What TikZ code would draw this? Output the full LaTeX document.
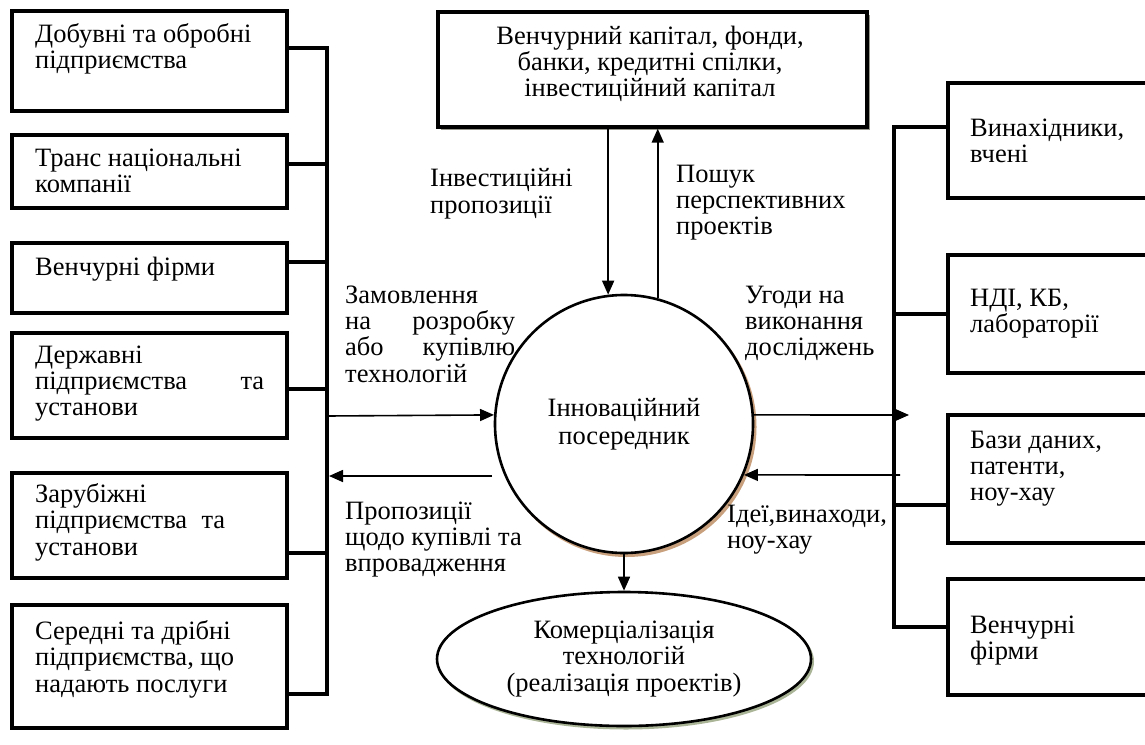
\documentclass[tikz,border=0pt]{standalone}
\usepackage{fontspec}
\setmainfont{Liberation Serif}
\usetikzlibrary{arrows.meta,shapes.geometric,calc}
\definecolor{boxshadow}{RGB}{150,150,140}
\definecolor{circshadow}{RGB}{200,160,125}
\definecolor{ellshadow}{RGB}{170,180,150}
\begin{document}
\begin{tikzpicture}[x=1pt,y=-1pt,
  lbox/.style={draw, line width=3.4pt, fill=white, minimum width=275pt, inner sep=0pt},
  rbox/.style={draw, line width=3.4pt, fill=white, minimum width=202pt, inner sep=0pt},
  txt/.style={anchor=north west, inner sep=0pt, align=left, font=\fontsize{26.5}{26.3}\selectfont},
  bus/.style={line width=3.2pt},
  arr/.style={line width=1.6pt, -{Triangle[length=14pt,width=12pt]}},
]
\useasboundingbox (0,0) rectangle (1145,744);

% top box with shadow
\fill[boxshadow] (441,15) rectangle (870,130);
\node[draw, line width=3.4pt, fill=white, minimum width=429pt, minimum height=115pt, inner sep=0pt] (T) at (652.5,69.5) {};
\node[anchor=north, inner sep=0pt, align=center, font=\fontsize{26.5}{26.3}\selectfont] (Tt) at (650,25.5)
  {Венчурний капітал, фонди,\\банки, кредитні спілки,\\інвестиційний капітал};

% left boxes
\node[lbox, minimum height=100pt] (l1) at (149.5,61) {};
\node[lbox, minimum height=73pt] (l2) at (149.5,171.5) {};
\node[lbox, minimum height=70pt] (l3) at (149.5,278) {};
\node[lbox, minimum height=105pt] (l4) at (149.5,385.5) {};
\node[lbox, minimum height=105pt] (l5) at (149.5,525.5) {};
\node[lbox, minimum height=123pt] (l6) at (149.5,666.5) {};

\node[txt] (l1t) at (35,23.5) {Добувні та обробні\\підприємства};
\node[txt] (l2t) at (35,148.5) {Транс національні\\компанії};
\node[txt] (l3t) at (35,256.5) {Венчурні фірми};
\node[txt] (l4t) at (35,345.5) {Державні\\\hbox to 229pt{підприємства\hfill та}\\установи};
\node[txt] (l5t) at (35,483.5) {Зарубіжні\\\hbox to 190pt{підприємства\hfill та}\\установи};
\node[txt] (l6t) at (35,620.5) {Середні та дрібні\\підприємства, що\\надають послуги};

% right boxes
\node[rbox, minimum height=115pt] (ra) at (1049,140.5) {};
\node[rbox, minimum height=118pt] (rb) at (1049,314) {};
\node[rbox, minimum height=128pt] (rc) at (1049,479) {};
\node[rbox, minimum height=116pt] (rd) at (1049,637) {};

\node[txt] (rat) at (970,118.5) {Винахідники,\\вчені};
\node[txt] (rbt) at (970,288.5) {НДІ, КБ,\\лабораторії};
\node[txt] (rct) at (970,430.5) {Бази даних,\\патенти,\\ноу-хау};
\node[txt] (rdt) at (970,615.5) {Венчурні\\фірми};

% circle with shadow
\fill[circshadow] (626.5,427) circle (130pt);
\node[circle, draw, line width=2.6pt, fill=white, minimum size=258pt, inner sep=0pt, align=center,
  font=\fontsize{26.5}{27.5}\selectfont] (C) at (624,424) {Інноваційний\\посередник};

% ellipse with shadow
\fill[ellshadow] (626,661.5) ellipse (188pt and 68pt);
\node[ellipse, draw, line width=2.6pt, fill=white, minimum width=374pt, minimum height=134pt, inner sep=0pt, align=center,
  font=\fontsize{26.5}{26.5}\selectfont] (E) at (624,659) {Комерціалізація\\технологій\\(реалізація проектів)};

% middle labels
\node[txt] (m1) at (430,168.5) {Інвестиційні\\пропозиції};
\node[txt] (m2) at (676,164.5) {Пошук\\перспективних\\проектів};
\node[txt] (m3) at (345,285.5) {Замовлення\\\hbox to 170pt{на\hfill розробку}\\\hbox to 170pt{або\hfill купівлю}\\технологій};
\node[txt] (m4) at (745,285.5) {Угоди на\\виконання\\досліджень};
\node[txt] (m5) at (345,501.5) {Пропозиції\\щодо купівлі та\\впровадження};
\node[txt] (m6) at (727,504.5) {Ідеї,винаходи,\\ноу-хау};

% left bus
\coordinate (lb1) at (327,48);
\coordinate (lb2) at (327,164);
\coordinate (lb3) at (327,262);
\coordinate (lb4) at (327,389);
\coordinate (lb5) at (327,553);
\coordinate (lb6) at (327,694);
\draw[bus] (l1.east |- lb1) -- (lb1) -- (lb6) -- (l6.east |- lb6);
\draw[bus] (l2.east |- lb2) -- (lb2);
\draw[bus] (l3.east |- lb3) -- (lb3);
\draw[bus] (l4.east |- lb4) -- (lb4);
\draw[bus] (l5.east |- lb5) -- (lb5);

% right bus
\coordinate (rb1) at (894,127);
\coordinate (rb2) at (894,314);
\coordinate (rb3) at (894,505);
\coordinate (rb4) at (894,627);
\draw[bus] (ra.west |- rb1) -- (rb1) -- (rb4) -- (rd.west |- rb4);
\draw[bus] (rb.west |- rb2) -- (rb2);
\draw[bus] (rc.west |- rb3) -- (rb3);

% arrows
\coordinate (lin) at (327,416);
\coordinate (lout) at (329,476);
\coordinate (loutS) at (492,476);
\coordinate (rout) at (909,415);
\coordinate (rinS) at (900,475);
\draw[arr] (lin) -- (C.176.4);
\draw[arr] (loutS) -- (lout);
\draw[arr] (C.4) -- (rout);
\draw[arr] (rinS) -- (C.-23.3);
\draw[arr] (T.south -| C.97.6) -- (C.97.6);
\draw[arr] (C.75.2) -- (T.south -| C.75.2);
\draw[arr] (C.south) -- (E.north);
\end{tikzpicture}
\end{document}
